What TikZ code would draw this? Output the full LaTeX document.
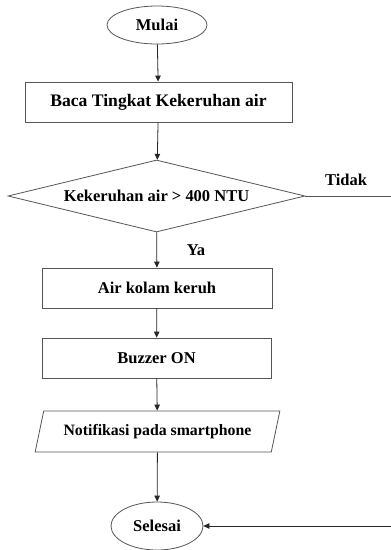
\documentclass[tikz,border=0pt]{standalone}
\usepackage{fontspec}
\setmainfont{Liberation Serif}
\usetikzlibrary{arrows.meta,positioning,shapes.geometric}
\definecolor{flowline}{HTML}{555555}

\begin{document}
\begin{tikzpicture}[x=1pt,y=-1pt,
    every node/.style={font=\bfseries\fontsize{16.5}{19}\selectfont},
    terminal/.style={draw=flowline,thick,ellipse,inner sep=0pt},
    process/.style={draw=flowline,thick,rectangle,inner sep=0pt},
    decision/.style={draw=flowline,thick,diamond,inner sep=0pt,shape aspect=4.1,minimum width=297pt,minimum height=72pt},
    io/.style={draw=flowline,thick,trapezium,trapezium left angle=64,trapezium right angle=116,trapezium stretches=true,inner sep=0pt,minimum width=245pt,minimum height=41pt},
    flow/.style={-{Triangle[length=6pt,width=5.5pt]},thick,black!85}]
        \useasboundingbox (0,0) rectangle (391,550);
        \node[terminal,minimum width=100pt,minimum height=38pt] (mulai) at (157,25) {Mulai};
        \node[process,minimum width=267pt,minimum height=40pt,font=\bfseries\fontsize{17.6}{20}\selectfont] (baca) at (158.5,102) {Baca Tingkat Kekeruhan air};
        \node[decision] (cek) at (156.5,196) {Kekeruhan air > 400 NTU};
        \node[process,minimum width=230pt,minimum height=40pt] (keruh) at (157,288) {Air kolam keruh};
        \node[process,minimum width=229pt,minimum height=40pt] (buzzer) at (156.5,358) {Buzzer ON};
        \node[io,font=\bfseries\fontsize{15.8}{18}\selectfont] (notif) at (157.5,431.5) {Notifikasi pada smartphone};
        \node[terminal,minimum width=92pt,minimum height=48pt] (selesai) at (157,526) {Selesai};
        \coordinate (tidakout) at (391,196);
        \coordinate (tidakin) at (391,526);
        \node (tidak) at (346,180) {Tidak};
        \node (ya) at (196,250) {Ya};
        \draw[flow] (mulai) -- (baca);
        \draw[flow] (baca) -- (cek);
        \draw[flow] (cek) -- (keruh);
        \draw[flow] (keruh) -- (buzzer);
        \draw[flow] (buzzer) -- (notif);
        \draw[flow] (notif) -- (selesai);
        \draw[thick,flowline] (cek.east) -- (tidakout);
        \draw[flow] (tidakin) -- (selesai.east);
      \end{tikzpicture}
\end{document}
